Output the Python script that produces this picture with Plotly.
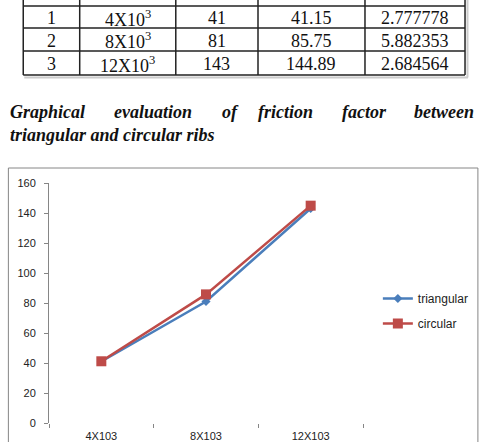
import plotly.graph_objects as go

# ---- data ----
categories = ["4X103", "8X103", "12X103"]
triangular = [41, 81, 143]
circular = [41.15, 85.75, 144.89]

table_sno = ["1", "2", "3"]
table_re = ["4X10<sup>3</sup>", "8X10<sup>3</sup>", "12X10<sup>3</sup>"]
table_tri = ["41", "81", "143"]
table_circ = ["41.15", "85.75", "144.89"]
table_dev = ["2.777778", "5.882353", "2.684564"]

caption_line1 = ["Graphical", "evaluation", "of", "friction", "factor", "between"]
caption_line2 = "triangular and circular ribs"

W, H = 486, 442
PL, PR, PT, PB = 49, 366, 183, 423


def px(x):
    return (x - PL) / (PR - PL)


def py(y):
    return (PB - y) / (PB - PT)


fig = go.Figure()
fig.add_trace(go.Scatter(
    x=categories, y=triangular, name="triangular", mode="lines+markers",
    line=dict(color="#4A7EBB", width=2.5),
    marker=dict(symbol="diamond", size=7, color="#4A7EBB"),
    legendgroup="a"))
fig.add_trace(go.Scatter(
    x=categories, y=circular, name="circular", mode="lines+markers",
    line=dict(color="#BE4B48", width=2.5),
    marker=dict(symbol="square", size=10, color="#BE4B48"),
    legendgroup="b"))

shapes = []
annotations = []

# chart frame
shapes.append(dict(type="rect", xref="paper", yref="paper",
                   x0=px(8), x1=px(482), y0=py(450), y1=py(168),
                   line=dict(color="#868686", width=1), layer="below"))

# table
col_x = [23, 80, 177, 260, 368, 469]
row_y = [6, 28, 51, 75]
tcol = "#222222"
# shadow
shapes.append(dict(type="line", xref="paper", yref="paper",
                   x0=px(24), x1=px(472), y0=py(77.5), y1=py(77.5),
                   line=dict(color="#cccccc", width=2)))
shapes.append(dict(type="line", xref="paper", yref="paper",
                   x0=px(471.5), x1=px(471.5), y0=py(0), y1=py(77.5),
                   line=dict(color="#cccccc", width=2)))
for cx in col_x:
    shapes.append(dict(type="line", xref="paper", yref="paper",
                       x0=px(cx), x1=px(cx), y0=py(-5), y1=py(row_y[-1]),
                       line=dict(color=tcol, width=1.5)))
for ry in row_y:
    shapes.append(dict(type="line", xref="paper", yref="paper",
                       x0=px(col_x[0]), x1=px(col_x[-1]), y0=py(ry), y1=py(ry),
                       line=dict(color=tcol, width=1.5)))

cols = [table_sno, table_re, table_tri, table_circ, table_dev]
for ci, colvals in enumerate(cols):
    cx = (col_x[ci] + col_x[ci + 1]) / 2
    for ri, v in enumerate(colvals):
        cy = (row_y[ri] + row_y[ri + 1]) / 2
        annotations.append(dict(
            text=v, xref="paper", yref="paper", x=px(cx), y=py(cy + 1),
            xanchor="center", yanchor="middle", showarrow=False,
            font=dict(family="Liberation Serif", size=18, color="#111111")))

# caption (justified line via word positions)
word_x = [8, 113, 222, 258, 343, 415]
for wx, w in zip(word_x, caption_line1):
    annotations.append(dict(
        text="<b><i>%s</i></b>" % w, xref="paper", yref="paper",
        x=px(wx), y=py(112), xanchor="left", yanchor="middle", showarrow=False,
        font=dict(family="Liberation Serif", size=18, color="#111111")))
annotations.append(dict(
    text="<b><i>%s</i></b>" % caption_line2, xref="paper", yref="paper",
    x=px(8), y=py(135), xanchor="left", yanchor="middle", showarrow=False,
    font=dict(family="Liberation Serif", size=18, color="#111111")))

fig.update_layout(
    width=W, height=H,
    margin=dict(l=PL, r=W - PR, t=PT, b=H - PB, pad=0),
    paper_bgcolor="white", plot_bgcolor="white",
    showlegend=True,
    legend=dict(x=px(381), y=py(284), xanchor="left", yanchor="top",
                font=dict(family="Liberation Sans", size=12, color="#222222"),
                bgcolor="rgba(0,0,0,0)", tracegroupgap=6, itemwidth=30),
    xaxis=dict(type="category", range=[-0.5, 2.5], showline=False,
               showgrid=False, zeroline=False, ticks="outside",
               tickson="boundaries", ticklen=4, tickcolor="#868686",
               ticklabelstandoff=5, automargin=False,
               tickfont=dict(family="Liberation Sans", size=11, color="#222222")),
    yaxis=dict(range=[0, 160], dtick=20, showline=True, linecolor="#868686",
               linewidth=1, showgrid=False, zeroline=False, ticks="outside",
               ticklen=4, tickcolor="#868686", ticklabelstandoff=6,
               automargin=False,
               tickfont=dict(family="Liberation Sans", size=11, color="#222222")),
    shapes=shapes, annotations=annotations,
)

fig.write_html("out.html")
